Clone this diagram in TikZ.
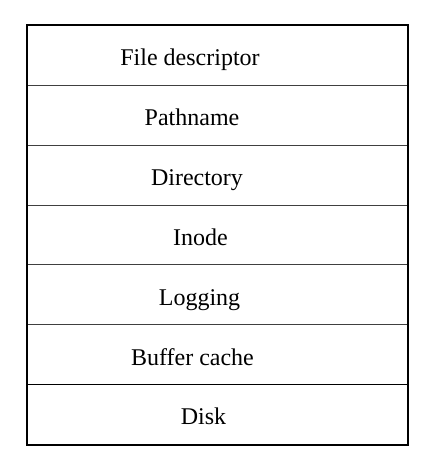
\documentclass[tikz,border=0pt]{standalone}
\usepackage{fontspec}
\setmainfont{Liberation Serif}
\begin{document}
\begin{tikzpicture}[x=1pt,y=-1pt,
  rowbox/.style={draw=black!75, line width=1pt, minimum width=380pt, minimum height=59.857pt, inner sep=0pt, anchor=north west},
  lbl/.style={font=\fontsize{24}{28}\selectfont, anchor=base, inner sep=0pt}]
\useasboundingbox (0,0) rectangle (431,469);
\node[rowbox] (r1) at (27,25) {};
\node[rowbox] (r2) at (27,84.857) {};
\node[rowbox] (r3) at (27,144.714) {};
\node[rowbox] (r4) at (27,204.571) {};
\node[rowbox] (r5) at (27,264.429) {};
\node[rowbox] (r6) at (27,324.286) {};
\node[rowbox,draw=black] (r7) at (27,384.143) {};
\draw[line width=2pt, black] (r1.north west) rectangle (r7.south east);
\node[lbl] (t1) at (190,65.5) {File descriptor};
\node[lbl] (t2) at (192,125.5) {Pathname};
\node[lbl] (t3) at (197,185.5) {Directory};
\node[lbl] (t4) at (200.5,245.5) {Inode};
\node[lbl] (t5) at (199.5,305.5) {Logging};
\node[lbl] (t6) at (192.5,365) {Buffer cache};
\node[lbl] (t7) at (203.5,424.5) {Disk};
\end{tikzpicture}
\end{document}
